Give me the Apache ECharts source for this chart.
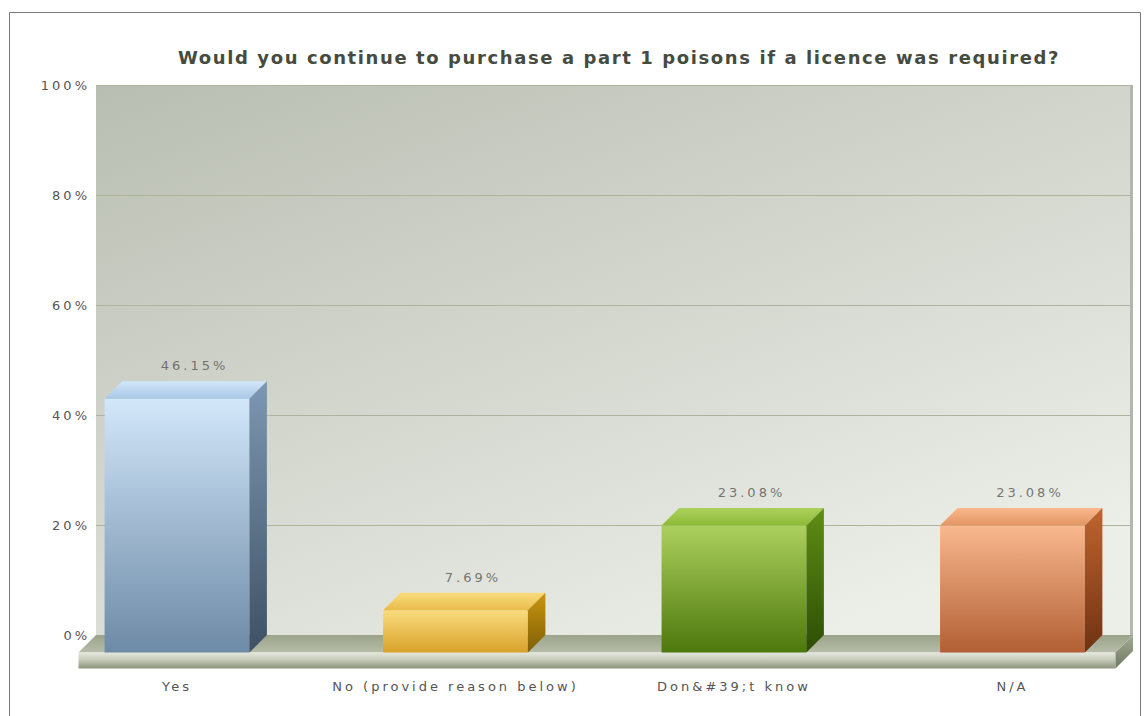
<!DOCTYPE html>
<html>
<head>
<meta charset="utf-8">
<script src="https://cdn.jsdelivr.net/npm/echarts@6/dist/echarts.min.js"></script>
<style>
  html, body { margin: 0; padding: 0; background: #fff; }
  #main { width: 1144px; height: 716px; }
  /* the original chart font is widely spaced */
  #main text { letter-spacing: 3px; }
  #main text.title { letter-spacing: 1.6px; }
</style>
</head>
<body>
<div id="main"></div>
<script>
// data
const categories = ['Yes', 'No (provide reason below)', 'Don&#39;t know', 'N/A'];
const percents = [46.15, 7.69, 23.08, 23.08];

// face colours per bar: [front top, front bottom, top face, side top, side bottom]
const barColors = [
    ['#d2e7fa', '#6d8aa6', '#a8c7e6', '#7d98b3', '#3e5164'],
    ['#f9dc7e', '#d9a12a', '#e9bb4a', '#c8960f', '#7f5e06'],
    ['#acd05e', '#4d780c', '#8dbb36', '#5f8e14', '#2d4d04'],
    ['#f9b88e', '#b25f34', '#e39562', '#c0642f', '#6f3212']
];

const DEPTH = 17.5;
const FONT = '"DejaVu Sans", Verdana, sans-serif';

function lin(c1, c2) {
    return new echarts.graphic.LinearGradient(0, 0, 0, 1, [
        { offset: 0, color: c1 }, { offset: 1, color: c2 }
    ]);
}

let dom = document.getElementById('main');
let myChart = echarts.init(dom, null, { renderer: 'svg' });

// floor slab under the bars + right edge of the wall
function renderFloor(params, api) {
    const cs = params.coordSys;
    const x0 = cs.x, x1 = cs.x + cs.width, yb = cs.y + cs.height;
    const d = DEPTH, th = 16;
    return {
        type: 'group',
        children: [
            {
                type: 'rect',
                shape: { x: x1 - 3, y: cs.y, width: 3, height: cs.height },
                style: { fill: '#b3b6ad' }
            },
            {
                type: 'polygon',
                shape: { points: [[x0, yb], [x1, yb], [x1 - d, yb + d], [x0 - d, yb + d]] },
                style: { fill: lin('#9ba48b', '#b6bca8') }
            },
            {
                type: 'rect',
                shape: { x: x0 - d, y: yb + d, width: x1 - x0, height: th },
                style: { fill: new echarts.graphic.LinearGradient(0, 0, 0, 1, [
                    { offset: 0, color: '#e4e7dc' }, { offset: 0.4, color: '#cbd0bf' }, { offset: 1, color: '#8b957c' }
                ]) }
            },
            {
                type: 'polygon',
                shape: { points: [[x1 - d, yb + d], [x1, yb], [x1, yb + th], [x1 - d, yb + d + th]] },
                style: { fill: lin('#a2ab93', '#6f7a62') }
            }
        ]
    };
}

function renderBar(params, api) {
    const i = api.value(0);
    const top = api.coord([i, api.value(1)]);
    const bot = api.coord([i, 0]);
    const w = api.size([1, 0])[0] * 0.52;
    const d = DEPTH;
    const c = barColors[params.dataIndex];
    const fx0 = top[0] - d - w / 2, fx1 = top[0] - d + w / 2;
    const fyt = top[1] + d, fyb = bot[1] + d;
    return {
        type: 'group',
        children: [
            {
                type: 'rect',
                shape: { x: fx0, y: fyt, width: w, height: fyb - fyt },
                style: { fill: lin(c[0], c[1]) }
            },
            {
                type: 'polygon',
                shape: { points: [[fx0, fyt], [fx1, fyt], [fx1 + d, top[1]], [fx0 + d, top[1]]] },
                style: { fill: new echarts.graphic.LinearGradient(0, 1, 0, 0, [
                    { offset: 0, color: c[2] }, { offset: 1, color: c[0] }
                ]) }
            },
            {
                type: 'polygon',
                shape: { points: [[fx1, fyt], [fx1 + d, top[1]], [fx1 + d, bot[1]], [fx1, fyb]] },
                style: { fill: lin(c[3], c[4]) }
            }
        ]
    };
}

let option = {
    backgroundColor: '#ffffff',
    animation: false,
    title: {
        text: 'Would you continue to purchase a part 1 poisons if a licence was required?',
        left: 614,
        textAlign: 'center',
        top: 43,
        textStyle: {
            fontFamily: FONT,
            fontSize: 18,
            fontWeight: 'bold',
            color: '#464b40'
        }
    },
    graphic: [{
        type: 'rect',
        shape: { x: 9.5, y: 12.5, width: 1131, height: 720 },
        style: { fill: null, stroke: '#7a7a7a', lineWidth: 1 },
        silent: true
    }],
    grid: {
        left: 96,
        right: 11,
        top: 85,
        bottom: 81,
        show: true,
        borderWidth: 0,
        backgroundColor: new echarts.graphic.LinearGradient(0, 0, 0.7, 1, [
            { offset: 0, color: '#b9beb2' },
            { offset: 1, color: '#eceee8' }
        ])
    },
    xAxis: {
        type: 'value',
        min: -0.3537,
        max: 3.37,
        axisLine: { show: false },
        axisTick: { show: false },
        splitLine: { show: false },
        axisLabel: {
            customValues: [0, 1, 2, 3],
            formatter: function (v) { return categories[Math.round(v)]; },
            margin: 45,
            padding: [0, 35, 0, 0],
            fontFamily: FONT,
            fontSize: 13,
            color: '#555'
        }
    },
    yAxis: {
        type: 'value',
        min: 0,
        max: 100,
        interval: 20,
        axisLine: { show: false },
        axisTick: { show: false },
        splitLine: { show: true, lineStyle: { color: '#adb39c', width: 1 } },
        axisLabel: {
            formatter: '{value}%',
            margin: 6,
            fontFamily: FONT,
            fontSize: 13,
            color: '#555'
        }
    },
    series: [
        {
            type: 'custom',
            name: 'floor',
            renderItem: renderFloor,
            data: [[0, 0]],
            z: 1,
            silent: true
        },
        {
            type: 'custom',
            name: 'bars',
            renderItem: renderBar,
            data: percents.map(function (v, i) { return [i, v]; }),
            z: 2
        },
        {
            // value labels, positioned with the scale
            type: 'scatter',
            data: percents.map(function (v, i) { return [i, v]; }),
            symbolSize: 0,
            z: 3,
            silent: true,
            label: {
                show: true,
                position: 'top',
                distance: 9,
                formatter: function (p) { return p.value[1].toFixed(2) + '%'; },
                fontFamily: FONT,
                fontSize: 13,
                color: '#555'
            }
        }
    ]
};

myChart.setOption(option);

// mark the title text so it gets its own spacing
let titleText = option.title.text;
dom.querySelectorAll('text').forEach(function (t) {
    if (t.textContent === titleText) t.classList.add('title');
});
</script>
</body>
</html>
